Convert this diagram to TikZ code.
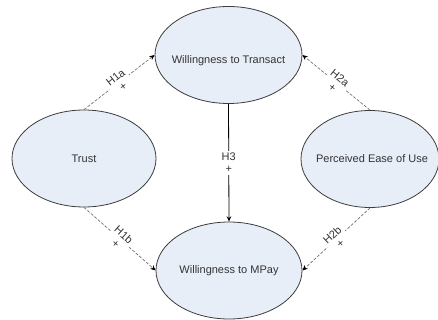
\documentclass[tikz,border=0pt]{standalone}
\usepackage{fontspec}
\setsansfont{Liberation Sans}
\usepackage{xcolor}
\usetikzlibrary{shapes.geometric,arrows.meta}
\definecolor{ellfill}{RGB}{232,238,248}
\definecolor{ellline}{RGB}{60,60,60}
\definecolor{hypline}{RGB}{110,110,110}

\begin{document}
\begin{tikzpicture}[x=0.75pt,y=0.75pt,yscale=-1,xscale=1,
    construct/.style={ellipse, draw=ellline, fill=ellfill, line width=0.6pt, inner sep=0pt, minimum height=72.75pt},
    txt/.style={font=\sffamily\fontsize{8.25}{9}\selectfont, text=black!80},
    hyp/.style={draw=hypline, line width=0.5pt, dash pattern=on 2.25pt off 1.2pt, -{Stealth[length=4pt,width=3.5pt,black]}},
    hypsolid/.style={draw=black, line width=0.6pt, -{Stealth[length=4pt,width=3.5pt,black]}},
    hyplabel/.style={txt, fill=white, inner sep=1.5pt, align=center}]
    \useasboundingbox (0,0) rectangle (438,320);

    %Shape: Ellipse
    \node [construct, minimum width=110.25pt] (wt) at (228.5,55) {};
    %Shape: Ellipse
    \node [construct, minimum width=108pt] (trust) at (84,158.5) {};
    %Shape: Ellipse
    \node [construct, minimum width=103.5pt] (peu) at (370,159) {};
    %Shape: Ellipse
    \node [construct, minimum width=109.5pt] (wm) at (229,270.5) {};

    % Text Node
    \node [txt] (wttext) at (228.5,61) {Willingness to Transact};
    % Text Node
    \node [txt] (trusttext) at (trust) {Trust};
    % Text Node
    \node [txt] (peutext) at (372,159) {Perceived Ease of Use};
    % Text Node
    \node [txt] (wmtext) at (wm) {Willingness to MPay};

    %Straight Lines
    \draw [hyp] (trust.north) -- node [hyplabel, midway, rotate=37.8] {H1a\\+} (wt.west);
    %Straight Lines
    \draw [hyp] (peu.north) -- node [hyplabel, midway, rotate=-39] {H2a\\+} (wt.east);
    %Straight Lines
    \draw [hyp] (trust.south) -- node [hyplabel, midway, rotate=-41.8] {H1b\\+} (wm.west);
    %Straight Lines
    \draw [hyp] (peu.south) -- node [hyplabel, midway, rotate=42.8] {H2b\\+} (wm.east);
    %Straight Lines
    \draw [hypsolid] (wt.south) -- node [hyplabel, midway] {H3\\+} (wm.north);

\end{tikzpicture}
\end{document}
